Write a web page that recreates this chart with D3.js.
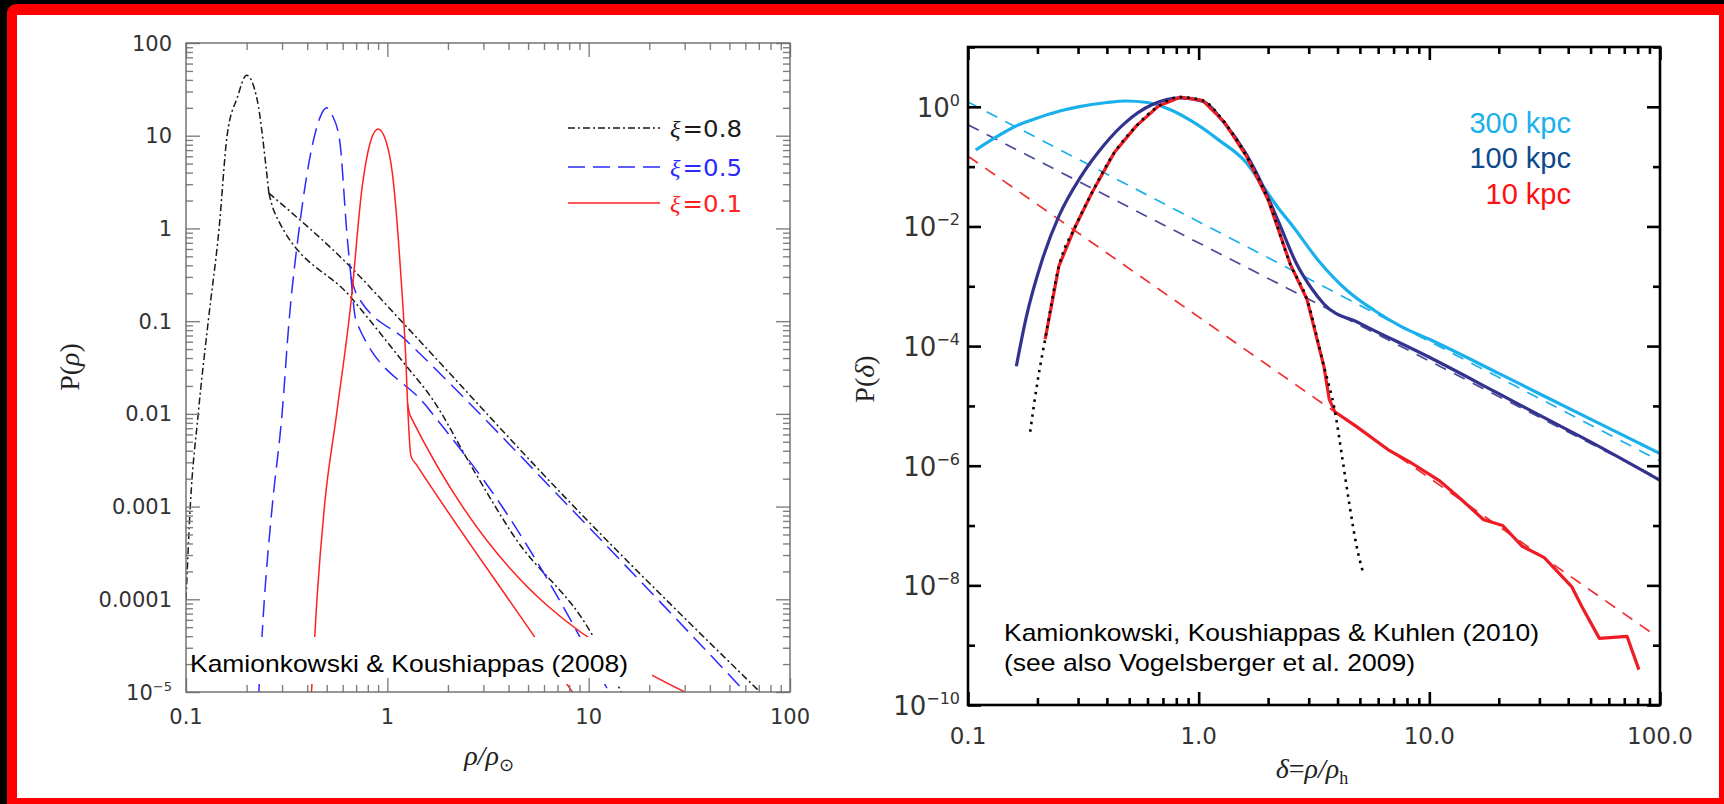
<!DOCTYPE html>
<html>
<head>
<meta charset="utf-8">
<script src="https://cdn.jsdelivr.net/npm/d3@7"></script>
<style>
  html, body { margin: 0; padding: 0; background: #000; }
  svg { display: block; }
</style>
</head>
<body>
<svg id="chart" width="1724" height="804"></svg>
<script>
// ---------------- left panel data: P(rho) vs rho/rho_sun ----------------
const leftXLabels = [[0.1, "0.1"], [1, "1"], [10, "10"], [100, "100"]];
const leftYLabels = [[100, "100"], [10, "10"], [1, "1"], [0.1, "0.1"], [0.01, "0.01"], [0.001, "0.001"], [0.0001, "0.0001"]];

// xi = 0.8 (dash-dot black)
const xi08Peak = [[0.1, 1e-4], [0.105, 0.001], [0.115, 0.01], [0.129, 0.1], [0.146, 1], [0.16, 10], [0.18, 26], [0.2, 45], [0.226, 24], [0.25, 4.5], [0.258, 2.4]];
const xi08TailA = [[0.258, 2.4], [0.66, 0.38], [1.2, 0.095], [8.1, 0.0011], [71, 1e-5]];
const xi08TailB = [[0.258, 2.4], [0.275, 1.5], [0.66, 0.18], [1.2, 0.036], [1.69, 0.014], [2.62, 0.0027], [4.2, 5e-4], [10.5, 4e-5], [14.5, 1e-5]];
// xi = 0.5 (long dash blue)
const xi05Peak = [[0.23, 1e-5], [0.245, 1e-4], [0.268, 0.001], [0.3, 0.01], [0.325, 0.1], [0.365, 1], [0.43, 9], [0.47, 17], [0.5, 20], [0.53, 17], [0.58, 8.8], [0.63, 0.87], [0.66, 0.3]];
const xi05TailA = [[0.66, 0.3], [0.7, 0.2], [1.24, 0.062], [10, 0.0006], [60, 1e-5]];
const xi05TailB = [[0.66, 0.3], [0.7, 0.1], [1.58, 0.0118], [3.8, 9.3e-4], [8.6, 4.8e-5], [12.6, 1e-5]];
// xi = 0.1 (solid red)
const xi01Peak = [[0.42, 1e-5], [0.447, 1e-4], [0.487, 0.001], [0.56, 0.01], [0.66, 0.16], [0.75, 2.8], [0.83, 9], [0.9, 11.8], [0.98, 9], [1.06, 3.9], [1.16, 0.38], [1.24, 0.032], [1.26, 0.013]];
const xi01TailA = [[1.26, 0.013], [1.3, 0.0095], [30, 1e-5]];
const xi01TailB = [[1.26, 0.013], [1.31, 0.0035], [1.4, 0.0028], [5.4, 3.9e-5], [8.3, 1e-5]];

const leftLegend = [["0.8", "#1a1a1a", "7,3,2,3"], ["0.5", "#2a2aff", "17,8"], ["0.1", "#ff2020", null]];

// ---------------- right panel data: P(delta) vs delta ----------------
const rightXLabels = [[0.1, "0.1"], [1, "1.0"], [10, "10.0"], [100, "100.0"]];
const rightYLabels = [[1, "0"], [1e-2, "\u22122"], [1e-4, "\u22124"], [1e-6, "\u22126"], [1e-8, "\u22128"], [1e-10, "\u221210"]];

const r300 = [[0.108, 0.19], [0.13, 0.3], [0.16, 0.47], [0.2, 0.65], [0.25, 0.85], [0.3, 1.0], [0.4, 1.18], [0.48, 1.25], [0.6, 1.18], [0.75, 0.9], [0.93, 0.58], [1.22, 0.28], [1.61, 0.116], [1.9, 0.047], [2.2, 0.021], [2.54, 0.0105], [3.33, 0.0026], [4.4, 8.5e-4], [5.8, 3.9e-4], [7.6, 2.1e-4], [10, 1.3e-4], [20, 3.5e-5], [30, 1.6e-5], [50, 6e-6], [100, 1.6e-6]];
const r100 = [[0.162, 4.6e-5], [0.178, 2.8e-4], [0.21, 0.0028], [0.248, 0.015], [0.309, 0.069], [0.385, 0.22], [0.48, 0.54], [0.63, 1.09], [0.83, 1.41], [1.04, 1.24], [1.29, 0.54], [1.61, 0.16], [1.9, 0.047], [2.24, 0.011], [2.64, 0.0025], [3.1, 9e-4], [3.5, 5e-4], [5, 2.4e-4], [10, 6.5e-5], [20, 1.6e-5], [30, 7e-6], [50, 2.5e-6], [100, 5.7e-7]];
const r10 = [[0.216, 1.3e-4], [0.248, 0.0022], [0.292, 0.01], [0.345, 0.037], [0.43, 0.17], [0.537, 0.48], [0.67, 1.03], [0.83, 1.45], [1.04, 1.28], [1.29, 0.56], [1.61, 0.15], [2.0, 0.028], [2.5, 0.0023], [2.95, 6e-4], [3.49, 4.6e-5], [3.68, 1.3e-5], [3.89, 8e-6], [4.84, 4.5e-6], [6.7, 1.8e-6], [8.4, 1.1e-6], [11, 5.7e-7], [13.8, 2.7e-7], [17.2, 1.25e-7], [20.8, 1e-7], [25.3, 4.5e-8], [31.5, 2.9e-8], [41.5, 9.4e-9], [46, 4.3e-9], [54.6, 1.3e-9], [72, 1.4e-9], [81, 3.9e-10]];
const lognormalFit = [[0.186, 3.7e-6], [0.2, 2.5e-5], [0.216, 1.3e-4], [0.248, 0.0022], [0.292, 0.01], [0.345, 0.037], [0.43, 0.17], [0.537, 0.48], [0.67, 1.03], [0.83, 1.45], [1.04, 1.28], [1.29, 0.56], [1.61, 0.15], [2.0, 0.028], [2.5, 0.0023], [2.95, 6e-4], [3.49, 4.6e-5], [3.9, 8e-6], [4.2, 1.3e-6], [4.5, 2.3e-7], [4.84, 4.5e-8], [5.17, 1.6e-8]];
const fit300 = [[0.1, 1.2], [100, 1.2e-6]];
const fit100 = [[0.1, 0.5], [100, 6e-7]];
const fit10 = [[0.1, 0.15], [92, 1.6e-9]];

const rightLegend = [["300 kpc", "#1ab0ec"], ["100 kpc", "#0d4a8c"], ["10 kpc", "#ff1010"]];

// ---------------- page frame ----------------
const svg = d3.select("#chart");
svg.append("rect").attr("width", 1724).attr("height", 804).attr("fill", "#000");
svg.append("rect").attr("x", 7).attr("y", 4).attr("width", 1730).attr("height", 820).attr("rx", 9).attr("fill", "#ff0000");
svg.append("rect").attr("x", 17).attr("y", 15).attr("width", 1702).attr("height", 783).attr("fill", "#fff");

const isDecade = v => Math.abs(Math.log10(v) - Math.round(Math.log10(v))) < 1e-6;

// draw the four sides of a log-log frame with inward ticks
function drawFrame(g, x, y, xTicks, yMajor, yMinor, style) {
  const [x0, x1] = x.range();
  const [y1, y0] = y.range();
  const xMajor = xTicks.filter(isDecade), xMinor = xTicks.filter(v => !isDecade(v));
  const sides = [
    [d3.axisBottom(x), `translate(0,${y1})`, xMajor, xMinor],
    [d3.axisTop(x), `translate(0,${y0})`, xMajor, xMinor],
    [d3.axisLeft(y), `translate(${x0},0)`, yMajor, yMinor],
    [d3.axisRight(y), `translate(${x1},0)`, yMajor, yMinor]
  ];
  sides.forEach(([axis, tr, major, minor]) => {
    [[major, style.major], [minor, style.minor]].forEach(([vals, len]) => {
      const a = g.append("g").attr("transform", tr)
        .call(axis.tickValues(vals).tickSize(-len).tickFormat(""));
      a.select(".domain").remove();
      a.selectAll("line").attr("stroke", style.tick).attr("stroke-width", style.width);
    });
  });
  g.append("rect")
    .attr("x", x0).attr("y", y0).attr("width", x1 - x0).attr("height", y1 - y0)
    .attr("fill", "none").attr("stroke", style.color).attr("stroke-width", style.width);
}

// ---------------- left panel ----------------
const xL = d3.scaleLog().domain([0.1, 100]).range([186, 790]);
const yL = d3.scaleLog().domain([1e-5, 100]).range([692, 43]);
const gL = svg.append("g");

gL.append("clipPath").attr("id", "clipL").append("rect")
  .attr("x", 186).attr("y", 43).attr("width", 604).attr("height", 649);

const lineL = d3.line().x(d => xL(d[0])).y(d => yL(d[1])).curve(d3.curveMonotoneX);
const leftSeries = [
  [xi08Peak, 0], [xi08TailA, 0], [xi08TailB, 0],
  [xi05Peak, 1], [xi05TailA, 1], [xi05TailB, 1],
  [xi01Peak, 2], [xi01TailA, 2], [xi01TailB, 2]
];
leftSeries.forEach(([data, k]) => {
  gL.append("path")
    .datum(data)
    .attr("clip-path", "url(#clipL)")
    .attr("fill", "none")
    .attr("stroke", leftLegend[k][1])
    .attr("stroke-width", 1.5)
    .attr("stroke-dasharray", leftLegend[k][2])
    .attr("d", lineL);
});

// white box under the citation
gL.append("rect").attr("x", 188).attr("y", 637).attr("width", 464).attr("height", 47).attr("fill", "#fff");

drawFrame(gL, xL, yL, xL.ticks(),
  yL.ticks().filter(isDecade), yL.ticks().filter(v => !isDecade(v)),
  { major: 14, minor: 7, tick: "#808080", color: "#6a6a6a", width: 1.4 });

// tick labels
gL.selectAll(".xlab").data(leftXLabels).join("text")
  .attr("x", d => xL(d[0])).attr("y", 724)
  .attr("text-anchor", "middle")
  .attr("font-family", "DejaVu Sans").attr("font-size", 21).attr("fill", "#333")
  .text(d => d[1]);
gL.selectAll(".ylab").data(leftYLabels).join("text")
  .attr("x", 172).attr("y", d => yL(d[0]) + 7.5)
  .attr("text-anchor", "end")
  .attr("font-family", "DejaVu Sans").attr("font-size", 21).attr("fill", "#333")
  .text(d => d[1]);
const t5 = gL.append("text").attr("x", 172).attr("y", yL(1e-5) + 7.5)
  .attr("text-anchor", "end").attr("font-family", "DejaVu Sans").attr("font-size", 21).attr("fill", "#333");
t5.append("tspan").text("10");
t5.append("tspan").attr("dy", -9).attr("font-size", 13).text("\u22125");

// axis titles
const xtL = gL.append("text").attr("x", 489).attr("y", 765).attr("text-anchor", "middle")
  .attr("font-family", "Liberation Serif").attr("font-size", 28).attr("fill", "#222");
xtL.append("tspan").attr("font-style", "italic").text("\u03c1/\u03c1");
xtL.append("tspan").attr("dy", 6).attr("font-size", 18).text("\u2299");

const ytL = gL.append("text").attr("transform", "translate(79,367) rotate(-90)")
  .attr("text-anchor", "middle")
  .attr("font-family", "Liberation Serif").attr("font-size", 28).attr("fill", "#222");
ytL.append("tspan").text("P(");
ytL.append("tspan").attr("font-style", "italic").text("\u03c1");
ytL.append("tspan").text(")");

// legend
leftLegend.forEach(([val, col, dash], i) => {
  const ly = [128, 167, 203][i];
  gL.append("line").attr("x1", 568).attr("x2", 660).attr("y1", ly).attr("y2", ly)
    .attr("stroke", col).attr("stroke-width", 1.5).attr("stroke-dasharray", dash);
  const t = gL.append("text").attr("x", 670).attr("y", ly + 8.5)
    .attr("font-size", 23).attr("fill", col)
    .attr("textLength", 72).attr("lengthAdjust", "spacingAndGlyphs");
  t.append("tspan").attr("font-family", "Liberation Serif").attr("font-style", "italic").text("\u03be");
  t.append("tspan").attr("font-family", "DejaVu Sans").attr("dx", 2).text("=" + val);
});

gL.append("text").attr("x", 190).attr("y", 672)
  .attr("font-family", "Liberation Sans").attr("font-size", 24).attr("fill", "#000")
  .attr("textLength", 438).attr("lengthAdjust", "spacingAndGlyphs")
  .text("Kamionkowski & Koushiappas (2008)");

// ---------------- right panel ----------------
const xR = d3.scaleLog().domain([0.1, 100]).range([968, 1660]);
const yR = d3.scaleLog().domain([1e-10, 10]).range([705, 47]);
const gR = svg.append("g");

gR.append("clipPath").attr("id", "clipR").append("rect")
  .attr("x", 968).attr("y", 47).attr("width", 692).attr("height", 658);

const lineR = d3.line().x(d => xR(d[0])).y(d => yR(d[1])).curve(d3.curveMonotoneX);
const lineRaw = d3.line().x(d => xR(d[0])).y(d => yR(d[1]));

// power-law fits (thin dashed)
[[fit300, rightLegend[0][1]], [fit100, "#4a4a9a"], [fit10, "#f03030"]].forEach(([data, col]) => {
  gR.append("path").datum(data)
    .attr("clip-path", "url(#clipR)")
    .attr("fill", "none").attr("stroke", col).attr("stroke-width", 1.7)
    .attr("stroke-dasharray", "12,9")
    .attr("d", lineRaw);
});

gR.append("path").datum(r300)
  .attr("clip-path", "url(#clipR)")
  .attr("fill", "none").attr("stroke", "#1ab0ec").attr("stroke-width", 3.2)
  .attr("d", lineR);
gR.append("path").datum(r100)
  .attr("clip-path", "url(#clipR)")
  .attr("fill", "none").attr("stroke", "#33338f").attr("stroke-width", 3.2)
  .attr("d", lineR);
gR.append("path").datum(r10)
  .attr("clip-path", "url(#clipR)")
  .attr("fill", "none").attr("stroke", "#ee1c25").attr("stroke-width", 3.2)
  .attr("stroke-linejoin", "round")
  .attr("d", lineRaw);
gR.append("path").datum(lognormalFit)
  .attr("clip-path", "url(#clipR)")
  .attr("fill", "none").attr("stroke", "#000").attr("stroke-width", 2.6)
  .attr("stroke-dasharray", "2.5,5")
  .attr("d", lineR);

const rYMajor = d3.range(-10, 1, 2).map(e => Math.pow(10, e));
const rYMinor = d3.range(-9, 2, 2).map(e => Math.pow(10, e));
drawFrame(gR, xR, yR, xR.ticks(), rYMajor, rYMinor,
  { major: 13, minor: 7, tick: "#000", color: "#000", width: 2.6 });

gR.selectAll(".xlab").data(rightXLabels).join("text")
  .attr("x", d => xR(d[0])).attr("y", 744)
  .attr("text-anchor", "middle")
  .attr("font-family", "DejaVu Sans").attr("font-size", 23).attr("fill", "#333")
  .text(d => d[1]);
rightYLabels.forEach(([v, e]) => {
  const t = gR.append("text").attr("x", 960).attr("y", yR(v) + 10)
    .attr("text-anchor", "end")
    .attr("font-family", "DejaVu Sans").attr("font-size", 26).attr("fill", "#333");
  t.append("tspan").text("10");
  t.append("tspan").attr("dy", -11).attr("font-size", 16).text(e);
});

const xtR = gR.append("text").attr("x", 1312).attr("y", 778).attr("text-anchor", "middle")
  .attr("font-family", "Liberation Serif").attr("font-size", 28).attr("fill", "#222");
xtR.append("tspan").attr("font-style", "italic").text("\u03b4");
xtR.append("tspan").text("=");
xtR.append("tspan").attr("font-style", "italic").text("\u03c1/\u03c1");
xtR.append("tspan").attr("dy", 6).attr("font-size", 18).text("h");

const ytR = gR.append("text").attr("transform", "translate(874,379) rotate(-90)")
  .attr("text-anchor", "middle")
  .attr("font-family", "Liberation Serif").attr("font-size", 28).attr("fill", "#222");
ytR.append("tspan").text("P(");
ytR.append("tspan").attr("font-style", "italic").text("\u03b4");
ytR.append("tspan").text(")");

rightLegend.forEach(([label, col], i) => {
  gR.append("text").attr("x", 1571).attr("y", [133, 168, 204][i])
    .attr("text-anchor", "end")
    .attr("font-family", "Liberation Sans").attr("font-size", 29).attr("fill", col)
    .text(label);
});

gR.append("text").attr("x", 1004).attr("y", 641)
  .attr("font-family", "Liberation Sans").attr("font-size", 24).attr("fill", "#000")
  .attr("textLength", 535).attr("lengthAdjust", "spacingAndGlyphs")
  .text("Kamionkowski, Koushiappas & Kuhlen (2010)");
gR.append("text").attr("x", 1004).attr("y", 671)
  .attr("font-family", "Liberation Sans").attr("font-size", 24).attr("fill", "#000")
  .attr("textLength", 411).attr("lengthAdjust", "spacingAndGlyphs")
  .text("(see also Vogelsberger et al. 2009)");
</script>
</body>
</html>
